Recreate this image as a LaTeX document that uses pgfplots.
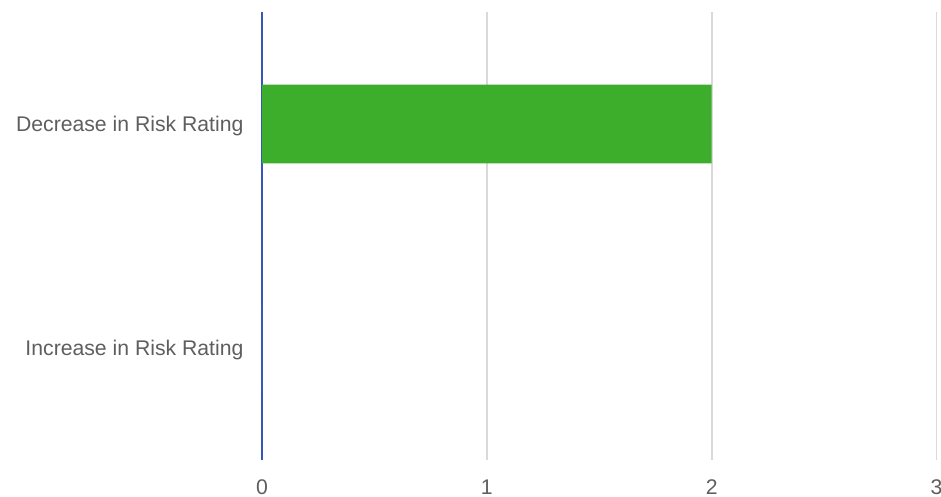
\documentclass[border=0pt]{standalone}
\usepackage{fontspec}
\setmainfont{Liberation Sans}
\usepackage{pgfplots}
\pgfplotsset{compat=1.18}

\definecolor{labelgrey}{HTML}{5E5E5E}
\definecolor{gridgrey}{HTML}{D9D9D9}
\definecolor{zeroblue}{HTML}{3557BD}
\definecolor{bargreen}{HTML}{3DAE2C}

\begin{document}
\begin{tikzpicture}
  % page frame: 941 x 497
  \path[use as bounding box] (0pt,0pt) rectangle (941pt,497pt);
  \begin{axis}[
    at={(262pt,37pt)}, anchor=south west,
    scale only axis,
    width=674.5pt, height=448pt,
    xbar, bar width=0.352,
    xmin=0, xmax=3,
    ymin=-0.5, ymax=1.5,
    xtick={0,1,2,3},
    ytick={0,1},
    yticklabels={Increase in Risk Rating, Decrease in Risk Rating},
    major tick length=0pt,
    axis line style={draw=none},
    xmajorgrids,
    grid style={gridgrey, line width=1.7pt},
    extra x ticks={0},
    extra x tick labels={},
    extra x tick style={grid style={zeroblue, line width=1.8pt}},
    tick label style={font=\fontsize{21.2}{25}\selectfont, text=labelgrey},
    xticklabel style={yshift=-16pt},
    yticklabel style={xshift=-15pt, yshift=-2pt},
    /pgf/number format/assume math mode=true,
    clip=false,
  ]
    \addplot[fill=bargreen, draw=none] coordinates {(2,1) (0,0)};
  \end{axis}
\end{tikzpicture}
\end{document}
